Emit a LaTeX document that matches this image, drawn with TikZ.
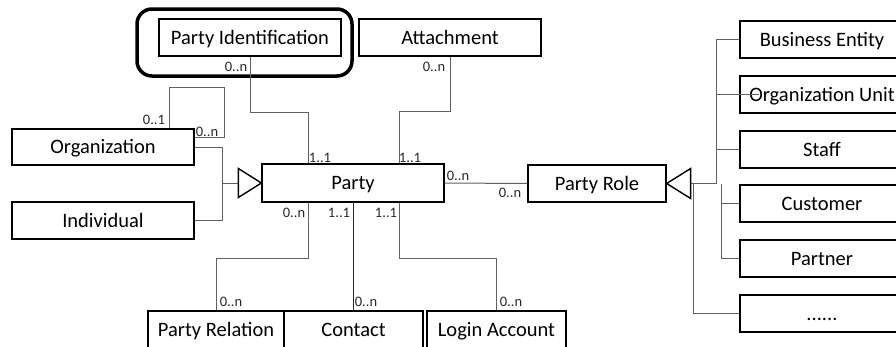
\documentclass[tikz,border=0pt]{standalone}
\usepackage{fontspec}
\setmainfont{Carlito}
\begin{document}
\begin{tikzpicture}[x=1pt,y=-1pt,
  ent/.style={draw, line width=1.3pt, inner sep=0pt, text height=13.2pt, text depth=0pt,
    font=\fontsize{20.5}{23}\selectfont},
  conn/.style={draw=black!62, line width=1pt},
  card/.style={font=\fontsize{14.5}{16}\selectfont, inner sep=0pt, text=black!85},
  gen/.style={draw, line width=1.4pt, fill=white, line join=miter}]
\useasboundingbox (0,0) rectangle (896,346);
\clip (0,0) rectangle (896,346);

% entities
\node[ent, minimum width=182pt, minimum height=37pt] (pid) at (250,37.5) {Party Identification};
\node[ent, minimum width=182pt, minimum height=37pt] (att) at (450,37.5) {Attachment};
\node[ent, minimum width=182pt, minimum height=36pt] (org) at (103,147) {Organization};
\node[ent, minimum width=182pt, minimum height=37pt] (ind) at (103,220.5) {Individual};
\node[ent, minimum width=182pt, minimum height=38pt] (party) at (353,183) {Party};
\node[ent, minimum width=138pt, minimum height=37pt] (pr) at (597,183.5) {Party Role};

% role subtypes
\node[ent, minimum width=164pt, minimum height=37pt] (be) at (822,39.5) {Business Entity};
\node[ent, minimum width=164pt, minimum height=37pt] (ou) at (822,94.5) {Organization Unit};
\node[ent, minimum width=164pt, minimum height=37pt] (staff) at (822,149.5) {Staff};
\node[ent, minimum width=164pt, minimum height=37pt] (cust) at (822,203.5) {Customer};
\node[ent, minimum width=164pt, minimum height=37pt] (partner) at (822,258.5) {Partner};
\node[ent, minimum width=164pt, minimum height=37pt] (dots) at (822,313.5) {......};

% bottom entities
\node[ent, minimum width=136pt, minimum height=37pt] (prel) at (216,329.5) {Party Relation};
\node[ent, minimum width=139pt, minimum height=37pt] (contact) at (353.5,329.5) {Contact};
\node[ent, minimum width=139pt, minimum height=37pt] (login) at (496.5,329.5) {Login Account};

% highlight around Party Identification
\draw[line width=3.5pt, rounded corners=15pt] (137,9) rectangle (352,76);

% associations of Party
\draw[conn] (pid.south) -- ++(0,56) -| ([xshift=-45pt]party.north);
\draw[conn] (att.south) -- ++(0,55) -| ([xshift=46pt]party.north);
\draw[conn] (party.east) -- (pr.west);
\draw[conn] ([xshift=-45pt]party.south) -- ++(0,56) -| (prel.north);
\draw[draw=black!85, line width=1pt] (party.south) -- (party.south |- contact.north);
\draw[conn] ([xshift=46pt]party.south) -- ++(0,56) -| (login.north);

% Organization self association
\draw[conn] ([xshift=66pt]org.north) -- ++(0,-41) -- ++(55,0) |- ([yshift=10pt]org.east);

% generalization into Party
\coordinate (gp) at ([xshift=-23pt]party.west);
\draw[conn] (org.east) -| ([xshift=-16pt]gp) -- (gp);
\draw[conn] (ind.east) -| ([xshift=-16pt]gp);
\draw[gen] (party.west) -- ++(-23,-14.5) -- ++(0,29) -- cycle;

% generalization into Party Role
\coordinate (gr) at ([xshift=24pt]pr.east);
\coordinate (t1) at ([xshift=26pt]gr);
\coordinate (t2) at ([xshift=5pt]t1);
\draw[conn] (gr) -- (t1) |- (be.west);
\draw[conn] (t1 |- ou.west) -- ([xshift=20pt]ou.west);
\draw[conn] (t1 |- staff.west) -- (staff.west);
\draw[conn] (t2) |- (partner.west);
\draw[conn] (t2 |- cust.west) -- (cust.west);
\draw[conn] ([xshift=3pt]gr) |- (dots.west);
\draw[gen] (pr.east) -- ++(24,-15) -- ++(0,30) -- cycle;

% multiplicities
\node[card] (m1) at (236,67) {0..n};
\node[card] (m2) at (434,67) {0..n};
\node[card] (m3) at (154,119.5) {0..1};
\node[card] (m4) at (207,132) {0..n};
\node[card] (m5) at (320,158) {1..1};
\node[card] (m6) at (410,158) {1..1};
\node[card] (m7) at (458,176) {0..n};
\node[card] (m8) at (510,193) {0..n};
\node[card] (m9) at (294,213) {0..n};
\node[card] (m10) at (339,213) {1..1};
\node[card] (m11) at (386,213) {1..1};
\node[card] (m12) at (231,302) {0..n};
\node[card] (m13) at (366,302) {0..n};
\node[card] (m14) at (511,302) {0..n};
\end{tikzpicture}
\end{document}
